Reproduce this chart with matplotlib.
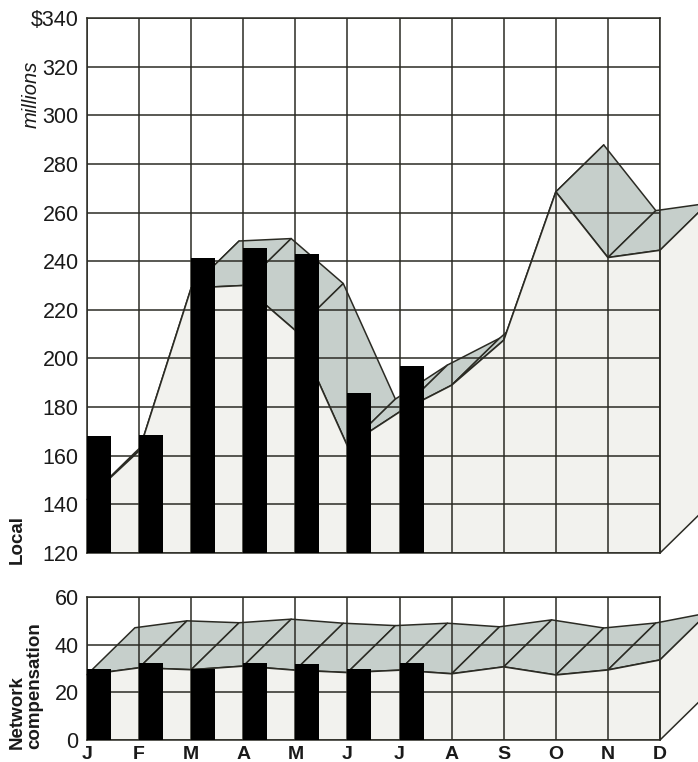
import matplotlib
matplotlib.use("Agg")
import matplotlib.pyplot as plt
from matplotlib.patches import Polygon
import numpy as np

INK = "#2b2b24"
RIBBON = "#c6cfcb"
FACE = "#f2f2ee"

plt.rcParams["font.family"] = ["Liberation Sans", "DejaVu Sans"]

months = ["J", "F", "M", "A", "M", "J", "J", "A", "S", "O", "N", "D"]

# local revenue: year-earlier line (front edge of the ribbon) and current bars
local_line = [142, 162, 229, 230, 211.5, 164, 178, 189, 207.5, 268.5, 241.5, 244.5]
local_bars = [168, 168.5, 241.5, 245.5, 243, 186, 197]
local_ticks = [120, 140, 160, 180, 200, 220, 240, 260, 280, 300, 320, 340]

# network compensation
network_line = [27.4, 30.3, 29.5, 31, 29.3, 28.3, 29.3, 27.8, 30.7, 27.3, 29.4, 33.6]
network_bars = [30, 32.5, 30, 32.5, 32, 30, 32.5]
network_ticks = [0, 20, 40, 60]

DEPTH_X = 0.92    # ribbon depth, in month columns
BAR_W = 0.46


def draw_panel(ax, line, bars, ticks, depth_y):
    x = np.arange(len(line))
    line = np.asarray(line, dtype=float)
    ymin, ymax = ticks[0], ticks[-1]

    # ribbon top, drawn left to right so later segments sit on top
    for i in range(len(x) - 1):
        quad = [(x[i], line[i]), (x[i + 1], line[i + 1]),
                (x[i + 1] + DEPTH_X, line[i + 1] + depth_y),
                (x[i] + DEPTH_X, line[i] + depth_y)]
        ax.add_patch(Polygon(quad, closed=True, facecolor=RIBBON,
                             edgecolor=INK, linewidth=1.1, clip_on=False,
                             zorder=1 + i * 0.01, joinstyle="round"))

    # front face under the line
    front = [(x[0], ymin)] + list(zip(x, line)) + [(x[-1], ymin)]
    ax.add_patch(Polygon(front, closed=True, facecolor=FACE,
                         edgecolor="none", zorder=2))
    # right-hand side face
    side = [(x[-1], ymin), (x[-1], line[-1]),
            (x[-1] + DEPTH_X, line[-1] + depth_y),
            (x[-1] + DEPTH_X, ymin + depth_y)]
    ax.add_patch(Polygon(side, closed=True, facecolor=FACE, edgecolor=INK,
                         linewidth=1.1, clip_on=False, zorder=2.1))
    ax.plot(x, line, color=INK, linewidth=1.2, zorder=2.2)

    ax.bar(x[:len(bars)], np.asarray(bars) - ymin, bottom=ymin,
           width=BAR_W, align="edge", color="black", zorder=5)

    ax.set_xlim(0, len(x) - 1)
    ax.set_ylim(ymin, ymax)
    ax.set_xticks(x)
    ax.set_yticks(ticks)
    ax.set_axisbelow(False)
    ax.grid(True, color=INK, linewidth=1.1)
    for s in ax.spines.values():
        s.set_color(INK)
        s.set_linewidth(1.1)
    ax.tick_params(length=0, pad=6, labelsize=15.5, labelcolor="#1a1a1a")


fig = plt.figure(figsize=(6.98, 7.62), dpi=100)
ax1 = fig.add_axes([87 / 698, 1 - 553 / 762, 573 / 698, 535 / 762])
ax2 = fig.add_axes([87 / 698, 1 - 740 / 762, 573 / 698, 143 / 762])

draw_panel(ax1, local_line, local_bars, local_ticks, 19.3)
draw_panel(ax2, network_line, network_bars, network_ticks, 19.7)

ax1.set_yticklabels([("$" if t == local_ticks[-1] else "") + str(t)
                     for t in local_ticks])
ax1.set_xticklabels([])
ax2.set_xticklabels(months, fontweight="bold", fontsize=14)
ax2.tick_params(axis="x", pad=4)

fig.text(31 / 698, 1 - 94 / 762, "millions", rotation=90, fontsize=14.5,
         fontstyle="italic", ha="center", va="center", color="#1a1a1a")
fig.text(17 / 698, 1 - 539 / 762, "Local", rotation=90, fontsize=13.5,
         fontweight="bold", ha="center", va="center", color="#1a1a1a")
fig.text(26 / 698, 1 - 686 / 762, "Network\ncompensation", rotation=90,
         fontsize=13.5, fontweight="bold", ha="center", va="center",
         multialignment="left", linespacing=1.0, color="#1a1a1a")

fig.savefig("out.png", dpi=100, facecolor="white")
